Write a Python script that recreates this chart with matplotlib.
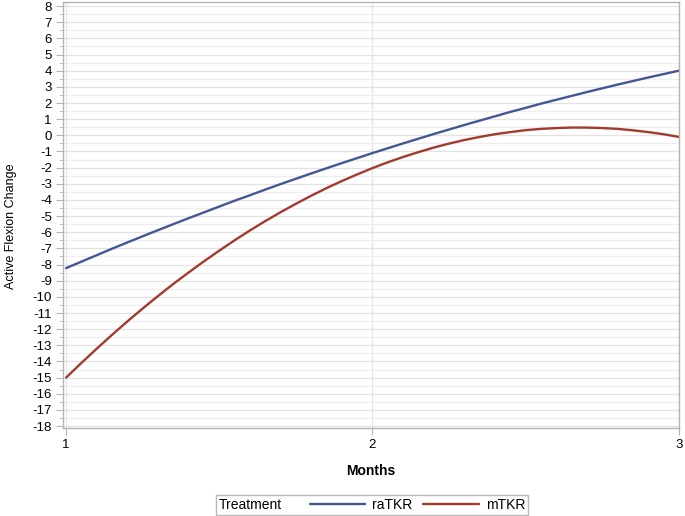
import matplotlib.pyplot as plt
from matplotlib.offsetbox import HPacker
from matplotlib.ticker import MultipleLocator

plt.rcParams['font.family'] = ['Liberation Sans', 'DejaVu Sans']
plt.rcParams['axes.unicode_minus'] = False

# values
months = [1.0, 1.05, 1.1, 1.15, 1.2, 1.25, 1.3, 1.35, 1.4, 1.45, 1.5,
          1.55, 1.6, 1.65, 1.7, 1.75, 1.8, 1.85, 1.9, 1.95, 2.0,
          2.05, 2.1, 2.15, 2.2, 2.25, 2.3, 2.35, 2.4, 2.45, 2.5,
          2.55, 2.6, 2.65, 2.7, 2.75, 2.8, 2.85, 2.9, 2.95, 3.0]
ratkr = [-8.22, -7.82, -7.42, -7.02, -6.63, -6.25, -5.87, -5.50, -5.13, -4.77, -4.41,
         -4.05, -3.71, -3.36, -3.02, -2.69, -2.36, -2.04, -1.72, -1.41, -1.10,
         -0.80, -0.50, -0.21, 0.08, 0.36, 0.64, 0.91, 1.18, 1.45, 1.70,
         1.96, 2.20, 2.44, 2.68, 2.91, 3.14, 3.36, 3.58, 3.79, 4.00]
mtkr = [-15.0, -14.09, -13.21, -12.35, -11.52, -10.72, -9.95, -9.20, -8.49, -7.80, -7.14,
        -6.50, -5.89, -5.31, -4.76, -4.24, -3.74, -3.27, -2.83, -2.42, -2.03,
        -1.67, -1.34, -1.04, -0.76, -0.51, -0.29, -0.10, 0.07, 0.20, 0.32,
        0.40, 0.45, 0.48, 0.48, 0.45, 0.40, 0.31, 0.20, 0.07, -0.10]
x_ticks = [1, 2, 3]

fig = plt.figure(figsize=(6.85, 5.16), dpi=100)
ax = fig.add_axes([0.092, 0.1705, 0.899, 0.8255])

ax.plot(months, ratkr, color='#445694', lw=1.7, label='raTKR', solid_capstyle='round')
ax.plot(months, mtkr, color='#A23A2E', lw=1.7, label='mTKR', solid_capstyle='round')

ax.set_xlim(0.99, 3.0)
ax.set_ylim(-18.12, 8.25)
ax.set_xticks(x_ticks)
ax.yaxis.set_major_locator(MultipleLocator(1))
ax.yaxis.set_minor_locator(MultipleLocator(0.5))
ax.grid(axis='y', which='major', color='#e2e2e2', lw=0.9)
ax.grid(axis='y', which='minor', color='#eeeeee', lw=0.9)
ax.grid(axis='x', which='major', color='#e6e6e6', lw=1.0)
ax.set_axisbelow(True)

for s in ax.spines.values():
    s.set_color('#b4b4b4')
    s.set_linewidth(1.0)
ax.tick_params(axis='both', which='major', labelsize=9.5, color='#b4b4b4', length=5, pad=3)
ax.tick_params(axis='y', which='minor', color='#b4b4b4', length=3)

ax.set_xlabel('Months', fontsize=10, fontweight='bold', labelpad=9)
ax.set_ylabel('Active Flexion Change', fontsize=9)
ax.yaxis.label.set_va('center')
ax.yaxis.set_label_coords(-0.085, 0.474)

leg = ax.legend(loc='lower center', bbox_to_anchor=(0.543, 0.002), bbox_transform=fig.transFigure,
                ncol=2, title='Treatment', title_fontsize=10, fontsize=10, frameon=True,
                fancybox=False, edgecolor='#a8a8a8', handlelength=4.0, handletextpad=0.5,
                columnspacing=0.8, borderpad=0.2, borderaxespad=0)
leg.get_frame().set_linewidth(1.0)
# put the legend title on the left of the entries
box = leg._legend_box
box.__class__ = HPacker
box.sep = 20
box.align = 'center'

fig.savefig('out.png', dpi=100)
